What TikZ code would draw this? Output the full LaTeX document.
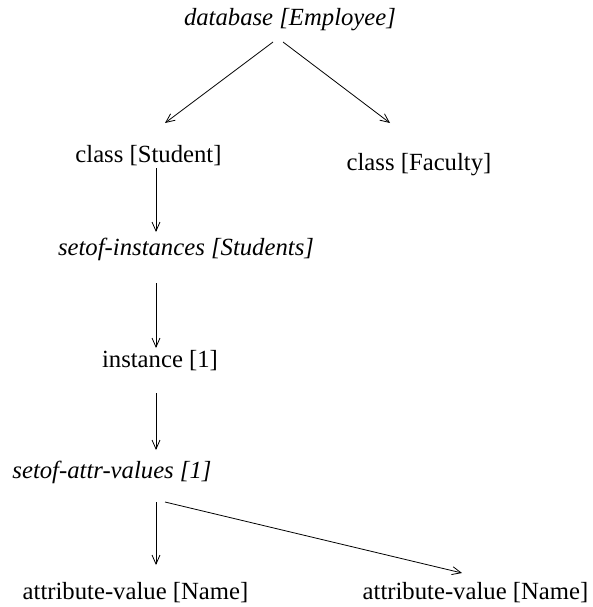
\documentclass[tikz,border=0pt]{standalone}
\usepackage{fontspec}
\setmainfont{Liberation Serif}
\usetikzlibrary{arrows.meta}
\begin{document}
\begin{tikzpicture}[x=1pt,y=-1pt,
  lbl/.style={anchor=base,inner sep=0pt,font=\fontsize{24.7}{29}\selectfont},
  ilbl/.style={lbl,font=\fontsize{24.7}{29}\selectfont\itshape},
  arr/.style={draw=black,line width=0.8pt,-{Straight Barb[length=9pt,width=8pt,line width=0.8pt]}}]
\useasboundingbox (0,0) rectangle (593,607);
\node[ilbl] (db) at (290,26) {database [Employee]};
\node[lbl] (cs) at (148.5,162) {class [Student]};
\node[lbl] (cf) at (419,170) {class [Faculty]};
\node[ilbl] (si) at (186,255) {setof-instances [Students]};
\node[lbl] (in) at (160,367) {instance [1]};
\node[ilbl] (sa) at (112,478) {setof-attr-values [1]};
\node[lbl] (av1) at (135.5,599) {attribute-value [Name]};
\node[lbl] (av2) at (475.5,599) {attribute-value [Name]};
\coordinate (db1) at (273,42);
\coordinate (db2) at (283,42);
\coordinate (cs1) at (165,123);
\coordinate (cf1) at (390,123);
\coordinate (cs0) at (156,168);
\coordinate (si1) at (156,232);
\coordinate (si0) at (156,283);
\coordinate (in1) at (156,348);
\coordinate (in0) at (156,393);
\coordinate (sa1) at (156,450);
\coordinate (sa0) at (156,502);
\coordinate (sa2) at (165,502);
\coordinate (av1t) at (156,565);
\coordinate (av2t) at (462,573);
\draw[arr] (db1) -- (cs1);
\draw[arr] (db2) -- (cf1);
\draw[arr] (cs0) -- (si1);
\draw[arr] (si0) -- (in1);
\draw[arr] (in0) -- (sa1);
\draw[arr] (sa0) -- (av1t);
\draw[arr] (sa2) -- (av2t);
\end{tikzpicture}
\end{document}
